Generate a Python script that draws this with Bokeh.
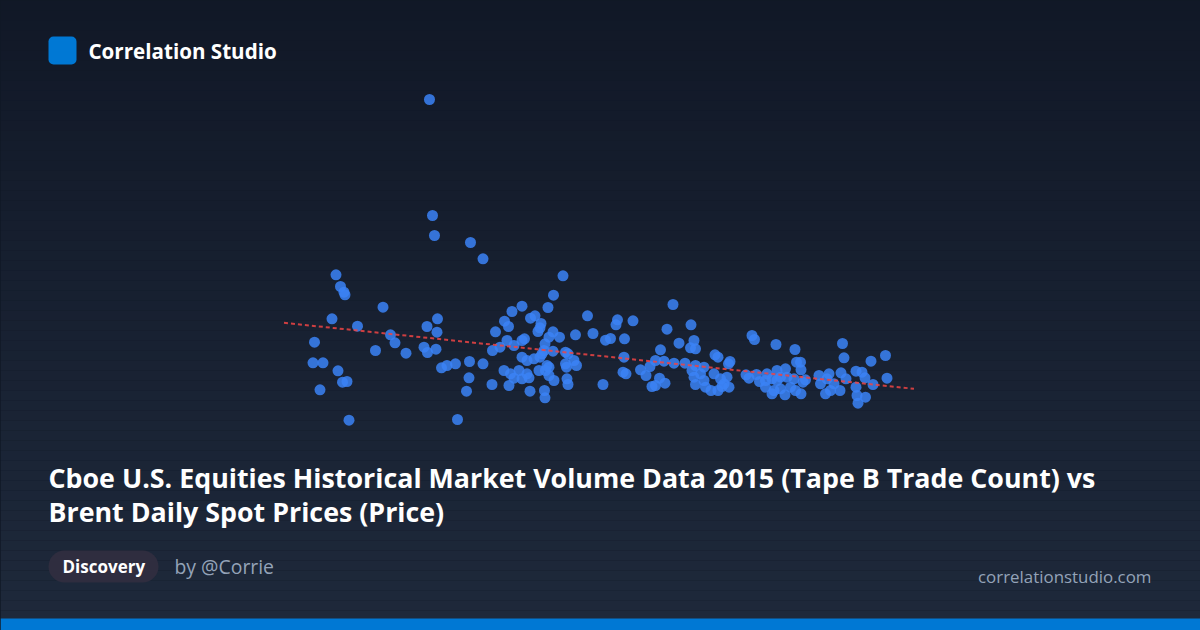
from bokeh.plotting import figure
from bokeh.models import Range1d, Label, BoxAnnotation
from bokeh.embed import file_html
from bokeh.resources import INLINE

W, H = 1200, 630

# Tape B trade count (x) vs Brent spot price (y)
trade_count = [
    401, 410, 417, 419, 495, 393, 604, 583, 444, 603, 358, 510, 519, 480, 541, 577, 584, 601,
    355, 375, 405, 414, 423, 369, 612, 623, 640, 668, 667, 662, 427, 644,
    588, 594, 598, 670, 695,
    855, 836, 773, 753, 825, 790, 799, 738, 746, 811, 809, 805, 904, 964, 961, 995, 1075, 1111,
    720, 1063, 880, 915, 835, 848, 827, 950, 940, 978, 1087, 1117, 1110, 1120,
    743, 757, 773, 778, 714, 729, 819, 835, 817, 860, 865, 877, 882, 1050, 977, 1040, 1057, 1077, 1099,
    695, 773, 783, 797, 809, 813, 860, 862, 823, 827, 820, 807, 737, 750, 767, 783, 757, 773, 787,
    827, 837, 863, 865, 935, 1010, 1021, 975, 981, 1029, 1048, 1059, 1033, 1040, 713, 747, 789, 818, 819,
    1233, 1238, 1281, 1319, 1414, 1417, 1471, 1500, 1159, 1165, 1189, 1186, 1120, 1137, 1113, 1130,
    1117, 1137, 1120, 1140, 1157, 1170, 1177, 1183, 1187, 1151, 1165, 1173, 1221, 1227, 1242, 1248,
    1263, 1283, 1300, 1322, 1330, 1331, 1260, 1273, 1283, 1290, 1303, 1317, 1335, 1340, 1260, 1277,
    1273, 1290, 1299, 1310, 1320, 1331, 1367, 1387, 1370, 1383, 1397, 1380, 1390, 1409, 1411, 1421,
    1441, 1453, 1459, 1475, 1503, 1441, 1443, 1445, 1460,
]
brent_price = [
    52.57, 51.40, 50.83, 50.57, 49.33, 48.17, 48.17, 47.40, 47.43, 46.83, 45.83, 46.57, 45.77, 45.00, 44.73, 45.33, 44.80, 45.13,
    43.77, 43.77, 42.97, 41.83, 41.90, 41.07, 43.27, 43.50, 43.67, 43.90, 42.27, 40.93, 38.03, 38.10,
    70.10, 58.50, 56.50, 55.80, 54.17,
    52.47, 50.53, 49.43, 48.90, 49.30, 48.23, 48.47, 47.93, 47.40, 47.70, 47.27, 46.90, 48.47, 48.07, 47.57, 47.97, 49.60, 47.57,
    46.87, 47.13, 46.57, 46.70, 46.87, 46.33, 46.33, 46.20, 46.03, 46.17, 45.73, 46.00, 45.27, 45.17,
    46.00, 45.50, 46.00, 46.17, 45.00, 45.33, 45.67, 44.93, 45.00, 44.83, 44.67, 44.00, 43.50, 45.07, 44.33, 44.00, 43.93, 43.73, 43.73,
    43.67, 44.33, 44.00, 44.17, 44.33, 44.67, 43.67, 43.33, 43.50, 43.33, 43.00, 43.00, 43.00, 42.67, 43.00, 42.67, 42.23, 42.17, 42.27,
    42.50, 42.00, 42.17, 41.60, 41.60, 43.07, 42.50, 42.83, 42.67, 43.40, 42.23, 41.73, 41.40, 41.50, 41.60, 41.50, 40.93, 41.00, 40.27,
    46.50, 46.10, 45.60, 45.10, 45.70, 44.27, 43.93, 44.50, 44.57, 44.33, 43.90, 43.67, 43.50, 43.33, 43.00, 42.67,
    42.33, 42.00, 41.60, 41.33, 42.67, 42.17, 41.67, 42.33, 41.33, 41.00, 41.00, 41.40, 42.57, 42.23, 42.60, 41.90,
    42.67, 43.00, 43.17, 43.83, 43.83, 43.07, 42.00, 42.17, 42.00, 42.33, 42.33, 42.17, 41.83, 42.07, 41.33, 41.00,
    40.67, 41.17, 40.57, 41.33, 41.00, 40.67, 42.50, 42.67, 41.67, 42.17, 41.67, 40.67, 41.00, 41.00, 42.77, 42.17,
    42.93, 42.83, 42.27, 41.60, 42.23, 41.33, 40.50, 39.73, 40.33,
]
trend_count = [297, 1557]
trend_price = [47.77, 41.17]

title_lines = [
    "Cboe U.S. Equities Historical Market Volume Data 2015 (Tape B Trade Count) vs",
    "Brent Daily Spot Prices (Price)",
]

p = figure(width=W, height=H, output_backend="svg", toolbar_location=None,
           x_range=Range1d(0, W), y_range=Range1d(0, H), min_border=0,
           x_axis_location=None, y_axis_location=None)
p.grid.visible = False
p.outline_line_color = None
p.background_fill_color = "#111827"
p.border_fill_color = "#111827"
p.extra_x_ranges = {"cnt": Range1d(-270, 2130)}
p.extra_y_ranges = {"price": Range1d(17, 80)}


def Y(py):
    return H - py


# background vertical gradient
top_c = (17, 24, 39)
bot_c = (30, 41, 59)
n = 63
lefts, rights, tops, bottoms, cols = [], [], [], [], []
for i in range(n):
    t = i / (n - 1)
    c = tuple(int(round(a + (b - a) * t)) for a, b in zip(top_c, bot_c))
    lefts.append(0); rights.append(W)
    tops.append(Y(i * 10)); bottoms.append(Y(i * 10 + 10))
    cols.append("#%02x%02x%02x" % c)
p.quad(left=lefts, right=rights, top=tops, bottom=bottoms, fill_color=cols, line_color=None)

# bottom bar
p.add_layout(BoxAnnotation(left=0, right=W, top=Y(618), bottom=0,
                           fill_color="#0078d4", fill_alpha=1, line_color=None))

# header logo
p.add_layout(BoxAnnotation(left=48, right=76, top=Y(36), bottom=Y(64),
                           fill_color="#0078d4", fill_alpha=1, line_color=None, border_radius=5))
p.add_layout(Label(x=88, y=Y(50), text="Correlation Studio", text_baseline="middle",
                   text_font="Open Sans", text_font_style="bold", text_font_size="20.6px",
                   text_color="#ffffff"))

# scatter
p.scatter(trade_count, brent_price, x_range_name="cnt", y_range_name="price",
          size=11, fill_color="#3b82f6", fill_alpha=0.85, line_color=None)
p.line(trend_count, trend_price, x_range_name="cnt", y_range_name="price",
       line_color="#ef4444", line_width=2, line_dash="4 3", line_alpha=0.85)

# title
for i, line in enumerate(title_lines):
    p.add_layout(Label(x=48, y=Y(477 + 34 * i), text=line, text_baseline="alphabetic",
                       text_font="Open Sans", text_font_style="bold", text_font_size="26.8px",
                       text_color="#ffffff"))

# pill
p.add_layout(BoxAnnotation(left=48, right=158, top=Y(550), bottom=Y(582),
                           fill_color="#2f2d3f", fill_alpha=1, line_color=None, border_radius=16))
p.add_layout(Label(x=62, y=Y(566), text="Discovery", text_baseline="middle",
                   text_font="Open Sans", text_font_style="bold", text_font_size="17px",
                   text_color="#ffffff"))
p.add_layout(Label(x=174, y=Y(566), text="by @Corrie", text_baseline="middle",
                   text_font="Open Sans", text_font_size="19.4px", text_color="#94a3b8"))
p.add_layout(Label(x=1151, y=Y(576), text="correlationstudio.com", text_baseline="middle",
                   text_align="right", text_font="Open Sans", text_font_size="16.9px",
                   text_color="#94a3b8"))

html = file_html(p, INLINE)
html = html.replace("</head>", "<style>html,body{margin:0;padding:0;background:#111827;overflow:hidden}</style></head>")
open("out.html", "w").write(html)
